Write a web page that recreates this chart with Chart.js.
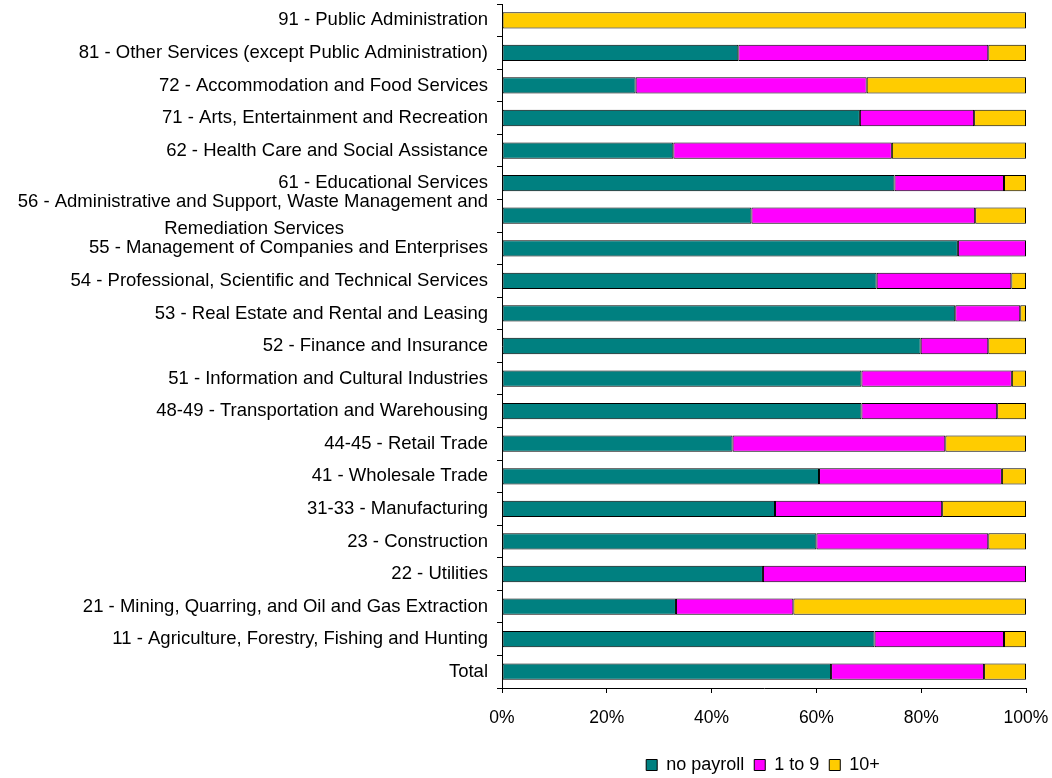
<!DOCTYPE html>
<html><head><meta charset="utf-8">
<script src="https://cdn.jsdelivr.net/npm/chart.js@4.4.0/dist/chart.umd.min.js"></script>
<style>html,body{margin:0;padding:0;background:#fff}#wrap{width:1052px;height:778px}</style>
</head><body><div id="wrap"><canvas id="c" width="1052" height="778"></canvas></div>
<script>
const FONT = "'Liberation Sans', Arial, sans-serif";
const LABEL_SIZE = 18.5;

const categories = [
  '91 - Public Administration',
  '81 - Other Services (except Public Administration)',
  '72 - Accommodation and Food Services',
  '71 - Arts, Entertainment and Recreation',
  '62 - Health Care and Social Assistance',
  '61 - Educational Services',
  ['56 - Administrative and Support, Waste Management and', 'Remediation Services'],
  '55 - Management of Companies and Enterprises',
  '54 - Professional, Scientific and Technical Services',
  '53 - Real Estate and Rental and Leasing',
  '52 - Finance and Insurance',
  '51 - Information and Cultural Industries',
  '48-49 - Transportation and Warehousing',
  '44-45 - Retail Trade',
  '41 - Wholesale Trade',
  '31-33 - Manufacturing',
  '23 - Construction',
  '22 - Utilities',
  '21 - Mining, Quarring, and Oil and Gas Extraction',
  '11 - Agriculture, Forestry, Fishing and Hunting',
  'Total'
];
const noPayroll = [0, 45.1, 25.5, 68.3, 32.7, 74.9, 47.6, 87.0, 71.5, 86.5, 79.9, 68.6, 68.6, 44.0, 60.5, 52.1, 60.0, 49.8, 33.2, 71.1, 62.8];
const oneToNine = [0, 47.7, 44.1, 21.8, 41.7, 20.9, 42.7, 13.0, 25.7, 12.4, 12.9, 28.7, 25.9, 40.6, 34.9, 31.9, 32.8, 50.2, 22.4, 24.7, 29.2];
const tenPlus   = [100, 7.2, 30.4, 9.9, 25.6, 4.2, 9.7, 0, 2.8, 1.1, 7.2, 2.7, 5.5, 15.4, 4.6, 16.0, 7.2, 0, 44.4, 4.2, 8.0];
const seriesNames = ['no payroll', '1 to 9', '10+'];
const xTicks = [0, 20, 40, 60, 80, 100];

// centre the second line of multi-line labels under the first (as the original does)
const mctx = document.createElement('canvas').getContext('2d');
mctx.font = LABEL_SIZE + 'px ' + FONT;
const displayLabels = categories.map(l => {
  if (!Array.isArray(l)) return l;
  const w0 = mctx.measureText(l[0]).width;
  return l.map((line, i) => {
    if (i === 0) return line;
    const w = mctx.measureText(line).width;
    const sp = mctx.measureText(' ').width;
    const n = Math.max(0, Math.round((w0 - w) / 2 / sp));
    return line + ' '.repeat(n);
  });
});

const legendPlacer = {
  id: 'legendPlacer',
  afterUpdate(chart) {
    const lg = chart.legend;
    if (!lg) return;
    const cx = 763, cy = 765;
    const dx = cx - (lg.left + lg.right) / 2;
    lg.left += dx; lg.right += dx;
    const h = lg.bottom - lg.top;
    const fs = lg.options.labels.font.size;
    lg.top = cy - lg.options.labels.padding - fs / 2;
    lg.bottom = lg.top + h;
  }
};

const common = { borderColor: '#000', borderWidth: 1, borderSkipped: false, barPercentage: 0.5, categoryPercentage: 1 };

new Chart(document.getElementById('c'), {
  type: 'bar',
  data: {
    labels: displayLabels,
    datasets: [
      Object.assign({ label: seriesNames[0], data: noPayroll, backgroundColor: '#008080' }, common),
      Object.assign({ label: seriesNames[1], data: oneToNine, backgroundColor: '#FF00FF' }, common),
      Object.assign({ label: seriesNames[2], data: tenPlus, backgroundColor: '#FFCC00' }, common)
    ]
  },
  options: {
    indexAxis: 'y',
    responsive: false,
    animation: false,
    devicePixelRatio: 1,
    layout: { padding: { top: 4, right: 26, left: 0, bottom: 0 } },
    plugins: {
      legend: {
        position: 'bottom',
        labels: {
          boxWidth: 11, boxHeight: 11, padding: 10,
          color: '#000',
          font: { family: FONT, size: 18 }
        }
      },
      tooltip: { enabled: false }
    },
    scales: {
      x: {
        stacked: true, min: 0, max: 100,
        afterBuildTicks(scale) { scale.ticks = xTicks.map(v => ({ value: v })); },
        afterFit(scale) {
          scale.height = 778 - 688 - (scale.chart.legend ? scale.chart.legend.height : 0);
          scale.paddingLeft = 0; scale.paddingRight = 0;
        },
        grid: { drawOnChartArea: false, drawTicks: true, tickLength: 5, color: '#000' },
        border: { color: '#000', width: 1 },
        ticks: { color: '#000', padding: 15, font: { family: FONT, size: 17.5 }, callback: v => v + '%', maxRotation: 0 }
      },
      y: {
        stacked: true,
        afterFit(scale) { scale.width = 502; scale.paddingTop = 0; scale.paddingBottom = 0; },
        grid: { offset: true, drawOnChartArea: false, drawTicks: true, tickLength: 5, color: '#000' },
        border: { color: '#000', width: 1 },
        ticks: { color: '#000', padding: 9, autoSkip: false, font: { family: FONT, size: LABEL_SIZE, lineHeight: 1.45 } }
      }
    }
  },
  plugins: [legendPlacer]
});
</script></body></html>
